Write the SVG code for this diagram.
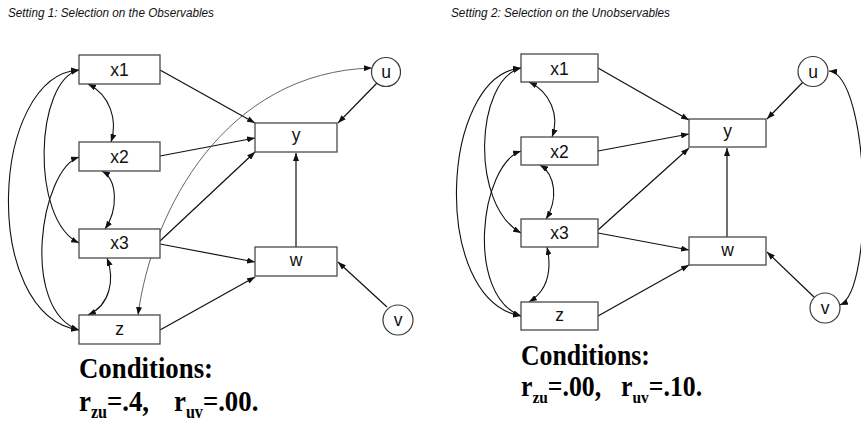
<svg xmlns="http://www.w3.org/2000/svg" width="861" height="424" viewBox="0 0 861 424">
  <style>
    .box { fill: #ffffff; stroke: #4a4a4a; stroke-width: 1.3; }
    .circ { fill: #ffffff; stroke: #3a3a3a; stroke-width: 1.2; }
    .lbl { font-family: "Liberation Sans", Arial, sans-serif; font-size: 17.5px; fill: #111111; text-anchor: middle; }
    .clbl { font-family: "Liberation Sans", Arial, sans-serif; font-size: 17.5px; fill: #111111; text-anchor: middle; }
    .title { font-family: "Liberation Sans", Arial, sans-serif; font-style: italic; font-size: 12.5px; fill: #111111; }
    .cond { font-family: "Liberation Serif", "Times New Roman", serif; font-weight: bold; fill: #000000; }
    .arr { fill: none; stroke: #111111; stroke-width: 1.2; marker-end: url(#head); }
    .cov { fill: none; stroke: #111111; stroke-width: 1.1; marker-start: url(#head); marker-end: url(#head); }
    .covthin { fill: none; stroke: #555555; stroke-width: 0.9; marker-start: url(#head); marker-end: url(#head); }
  </style>
  <defs>
    <marker id="head" viewBox="0 0 8 6" refX="8" refY="3" markerWidth="8" markerHeight="6" markerUnits="userSpaceOnUse" orient="auto-start-reverse">
      <path d="M0,0 L8,3 L0,6 z" fill="#111111"/>
    </marker>
  </defs>

  <rect width="861" height="424" fill="#ffffff"/>

  <!-- headings -->
  <text class="title" x="8" y="16.5" textLength="206" lengthAdjust="spacingAndGlyphs">Setting 1: Selection on the Observables</text>
  <text class="title" x="451" y="16.5" textLength="219" lengthAdjust="spacingAndGlyphs">Setting 2: Selection on the Unobservables</text>

  <!-- ===== Setting 1 connectors ===== -->
  <g id="connectors-1">
    <path class="arr" d="M160 70 L255 123"/>
    <path class="arr" d="M160 156 L255 138"/>
    <path class="arr" d="M160 241 L255 152"/>
    <path class="arr" d="M160 244 L255 262"/>
    <path class="arr" d="M160 330 L255 277"/>
    <path class="arr" d="M377 83 L338 123"/>
    <path class="arr" d="M387 307 L338 262"/>
    <path class="arr" d="M296 247 L296 153"/>
    <!-- correlations among exogenous variables -->
    <path class="cov" d="M88 84 C110 95 118 120 111 142"/>
    <path class="cov" d="M102 171 C118 180 118 210 105 229"/>
    <path class="cov" d="M107 258 C115 280 110 305 88 315"/>
    <path class="cov" d="M79 70 C-10 75 -20 315 79 330"/>
    <path class="cov" d="M79 70 C35 80 30 220 79 243"/>
    <path class="cov" d="M79 157 C40 170 20 310 79 330"/>
    <!-- z with u -->
    <path class="covthin" d="M138 315 C152 210 225 72 372 68"/>
  </g>

  <!-- ===== Setting 1 nodes ===== -->
  <g id="s1-x1"><rect class="box" x="79" y="55" width="81" height="29"/><text class="lbl" x="119.5" y="76">x1</text></g>
  <g id="s1-x2"><rect class="box" x="79" y="142" width="81" height="29"/><text class="lbl" x="119.5" y="163">x2</text></g>
  <g id="s1-x3"><rect class="box" x="79" y="229" width="81" height="29"/><text class="lbl" x="119.5" y="249">x3</text></g>
  <g id="s1-z"><rect class="box" x="79" y="315" width="81" height="29"/><text class="lbl" x="119.5" y="334.5">z</text></g>
  <g id="s1-y"><rect class="box" x="255" y="123" width="82" height="29"/><text class="lbl" x="296" y="140.5">y</text></g>
  <g id="s1-w"><rect class="box" x="255" y="247" width="82" height="29"/><text class="lbl" x="296" y="265.5">w</text></g>
  <g id="s1-u"><circle class="circ" cx="386" cy="72" r="14.5"/><text class="clbl" x="386" y="78">u</text></g>
  <g id="s1-v"><circle class="circ" cx="398" cy="320" r="15"/><text class="clbl" x="398" y="325.5">v</text></g>

  <!-- Setting 1 conditions -->
  <g transform="translate(79 0) scale(0.893 1)">
    <text class="cond" x="0" y="378" font-size="30">Conditions:</text>
    <text class="cond" x="0" y="411" font-size="30">r<tspan font-size="18" dy="7">zu</tspan><tspan dy="-7">=.4,</tspan><tspan dx="28">r</tspan><tspan font-size="18" dy="7">uv</tspan><tspan dy="-7">=.00.</tspan></text>
  </g>

  <!-- ===== Setting 2 connectors ===== -->
  <g id="connectors-2">
    <path class="arr" d="M598 68 L689 120"/>
    <path class="arr" d="M598 151 L689 134"/>
    <path class="arr" d="M598 230 L689 148"/>
    <path class="arr" d="M598 233 L689 250"/>
    <path class="arr" d="M598 316 L689 265"/>
    <path class="arr" d="M803 82 L767 119"/>
    <path class="arr" d="M814 297 L767 252"/>
    <path class="arr" d="M727 237 L727 148"/>
    <!-- correlations among exogenous variables -->
    <path class="cov" d="M529 82 C550 92 560 115 552 137"/>
    <path class="cov" d="M540 165 C556 175 558 200 546 219"/>
    <path class="cov" d="M547 247 C552 270 548 290 529 302"/>
    <path class="cov" d="M521 68 C440 75 430 300 521 316"/>
    <path class="cov" d="M521 68 C475 80 470 205 521 233"/>
    <path class="cov" d="M521 151 C480 165 465 295 521 316"/>
    <!-- u with v -->
    <path class="cov" d="M829 71 C870 75 875 290 840 305"/>
  </g>

  <!-- ===== Setting 2 nodes ===== -->
  <g id="s2-x1"><rect class="box" x="521" y="54" width="77" height="28"/><text class="lbl" x="559.5" y="74.5">x1</text></g>
  <g id="s2-x2"><rect class="box" x="521" y="137" width="77" height="28"/><text class="lbl" x="559.5" y="157.5">x2</text></g>
  <g id="s2-x3"><rect class="box" x="521" y="219" width="77" height="28"/><text class="lbl" x="559.5" y="239">x3</text></g>
  <g id="s2-z"><rect class="box" x="521" y="302" width="77" height="28"/><text class="lbl" x="559.5" y="320.5">z</text></g>
  <g id="s2-y"><rect class="box" x="689" y="119" width="77" height="28"/><text class="lbl" x="727.5" y="136.5">y</text></g>
  <g id="s2-w"><rect class="box" x="689" y="237" width="77" height="28"/><text class="lbl" x="727.5" y="255.5">w</text></g>
  <g id="s2-u"><circle class="circ" cx="813" cy="71.5" r="15"/><text class="clbl" x="813" y="77.5">u</text></g>
  <g id="s2-v"><circle class="circ" cx="825" cy="308" r="15"/><text class="clbl" x="825" y="313.5">v</text></g>

  <!-- Setting 2 conditions -->
  <g transform="translate(521 0) scale(0.905 1)">
    <text class="cond" x="0" y="365" font-size="28.5">Conditions:</text>
    <text class="cond" x="0" y="396" font-size="28.5">r<tspan font-size="17" dy="7">zu</tspan><tspan dy="-7">=.00,</tspan><tspan dx="22">r</tspan><tspan font-size="17" dy="7">uv</tspan><tspan dy="-7">=.10.</tspan></text>
  </g>
</svg>
